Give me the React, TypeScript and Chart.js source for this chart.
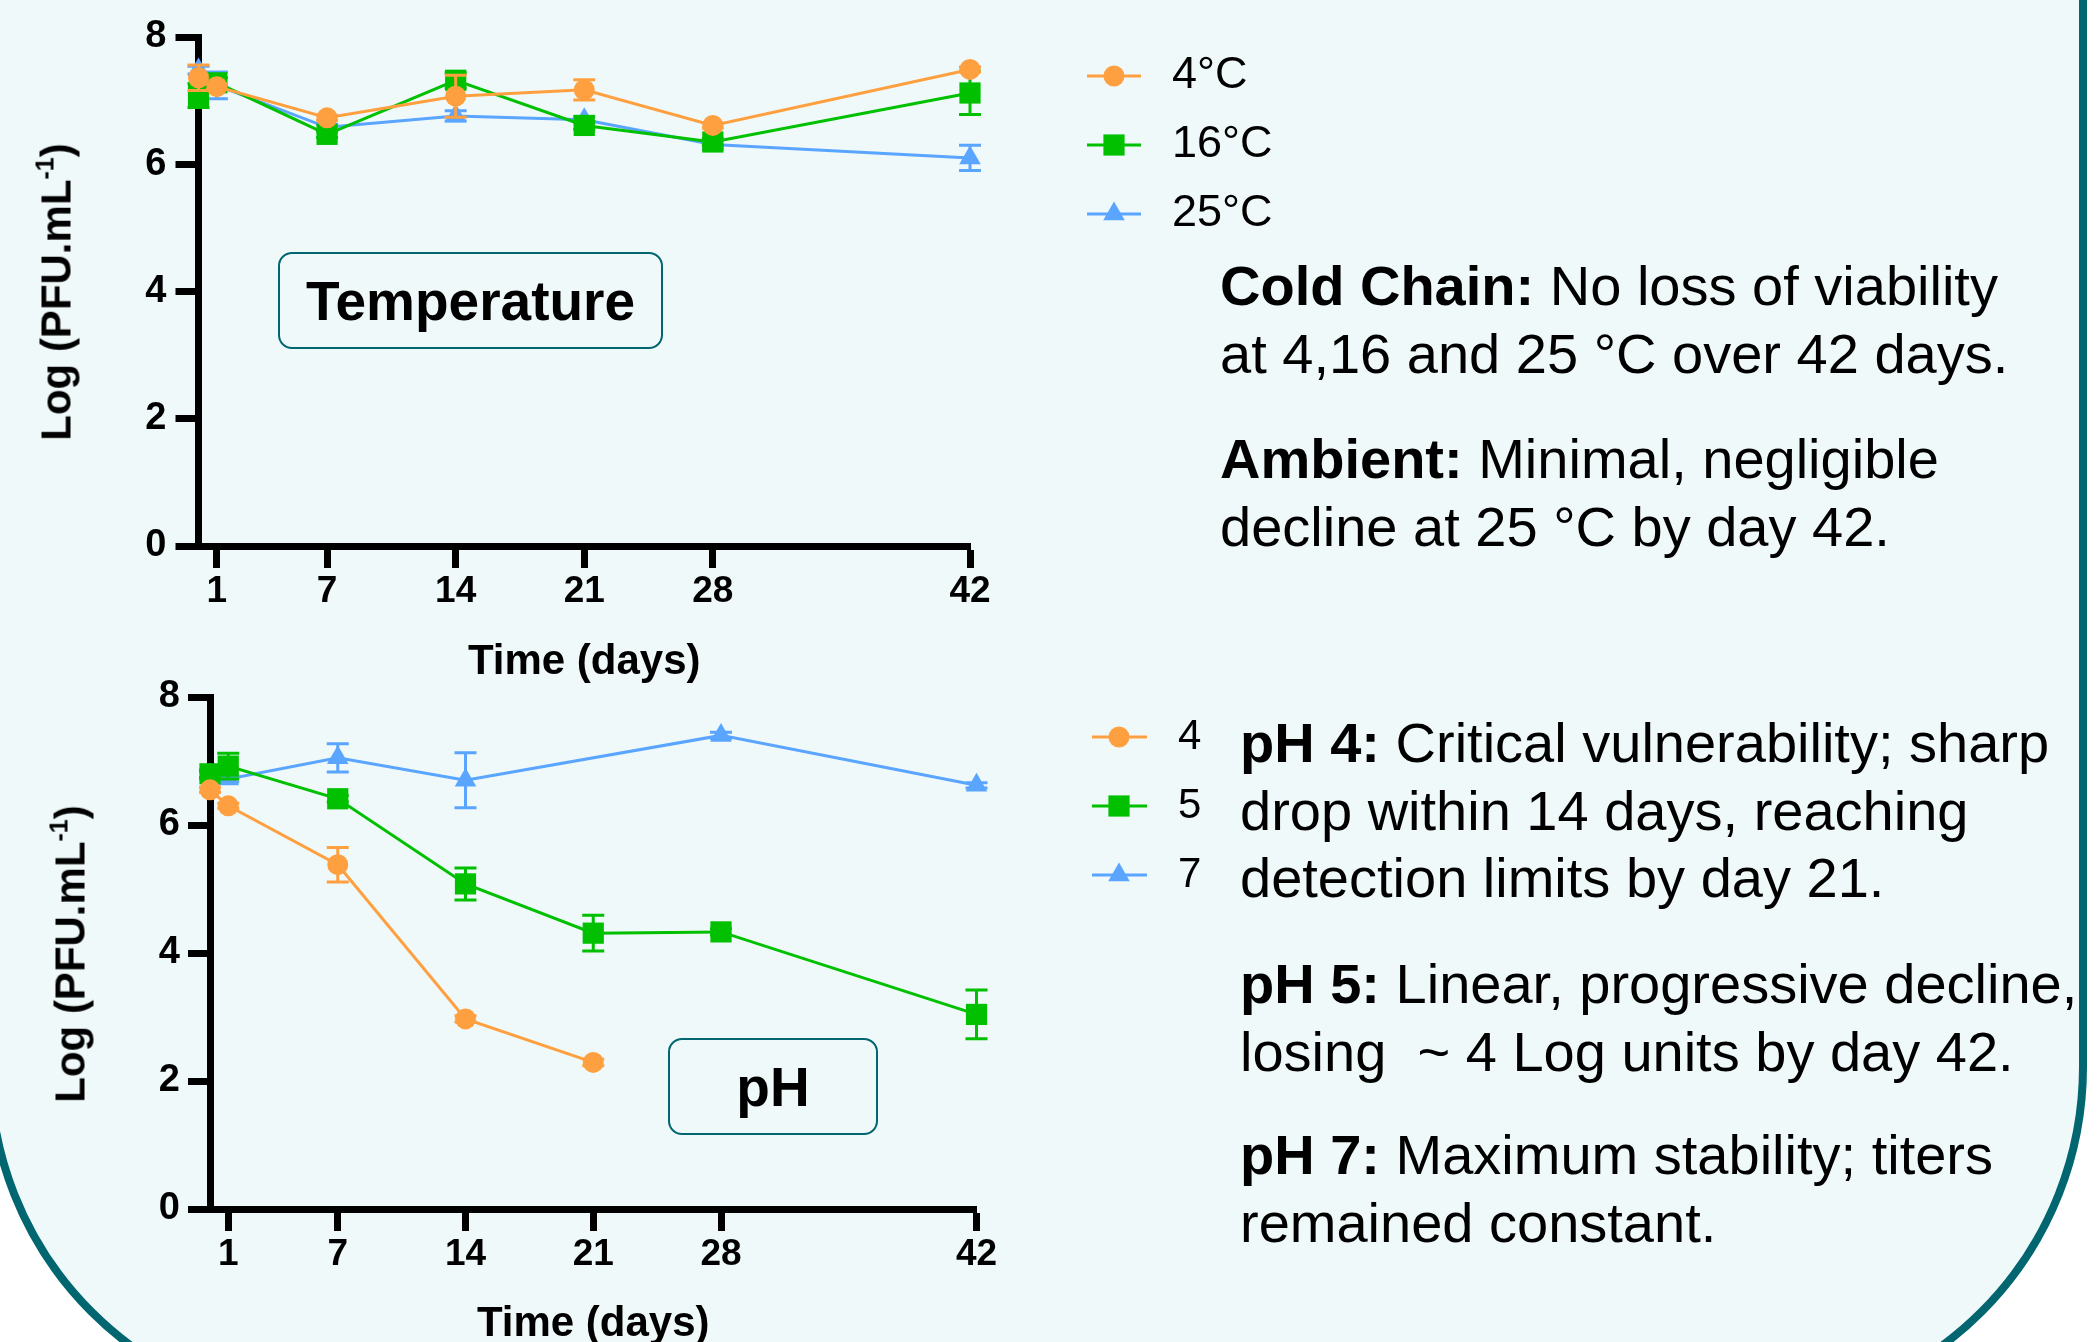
import React, { useEffect, useRef } from 'react';
import { Chart, registerables } from 'chart.js';

Chart.register(...registerables);

const FONT = "'Liberation Sans', Arial, Helvetica, sans-serif";

// ---------- data ----------
const DAYS = [0, 1, 7, 14, 21, 28, 42];
const X_TICKS = [1, 7, 14, 21, 28, 42];
const Y_TICKS = [0, 2, 4, 6, 8];
const X_TITLE = 'Time (days)';

const TEMP_LABELS = ['4°C', '16°C', '25°C'];
const TEMP_4_MEAN = [7.36, 7.22, 6.73, 7.07, 7.17, 6.61, 7.49];
const TEMP_4_SD = [0.2, 0.04, 0.04, 0.33, 0.16, 0.04, 0.04];
const TEMP_16_MEAN = [7.08, 7.28, 6.47, 7.32, 6.61, 6.35, 7.12];
const TEMP_16_SD = [0.19, 0.08, 0.05, 0.12, 0.06, 0.05, 0.34];
const TEMP_25_MEAN = [7.48, 7.24, 6.58, 6.76, 6.7, 6.31, 6.1];
const TEMP_25_SD = [0.06, 0.21, 0.05, 0.08, 0.05, 0.07, 0.2];

const PH_LABELS = ['4', '5', '7'];
const PH_4_MEAN = [6.55, 6.3, 5.38, 2.97, 2.29, null, null];
const PH_4_SD = [0.04, 0.04, 0.27, 0.05, 0.05, null, null];
const PH_5_MEAN = [6.8, 6.92, 6.41, 5.08, 4.31, 4.33, 3.04];
const PH_5_SD = [0.06, 0.2, 0.05, 0.25, 0.28, 0.05, 0.38];
const PH_7_MEAN = [6.78, 6.72, 7.05, 6.7, null, 7.4, 6.62];
const PH_7_SD = [0.05, 0.05, 0.22, 0.43, null, 0.05, 0.04];

const COLORS = ['#FFA040', '#00C000', '#5AA5FF'];
const POINT_STYLES = ['circle', 'rect', 'triangle'];
const POINT_RADII = [10.5, 15, 12.5];

// ---------- helpers ----------
function buildPoints(means: (number | null)[], sds: (number | null)[]) {
  return DAYS.map((d, i) => ({ x: d, y: means[i], sd: sds[i] })).filter((p) => p.y !== null);
}

function buildDatasets(labels: string[], means: (number | null)[][], sds: (number | null)[][]) {
  return labels.map((label, i) => ({
    label,
    data: buildPoints(means[i], sds[i]),
    borderColor: COLORS[i],
    backgroundColor: COLORS[i],
    pointBackgroundColor: COLORS[i],
    pointBorderWidth: 0,
    pointStyle: POINT_STYLES[i],
    pointRadius: POINT_RADII[i],
    borderWidth: 3,
    tension: 0,
    clip: false as any,
  }));
}

const errorBarPlugin = {
  id: 'errorBars',
  beforeDatasetDraw(chart: any, args: any) {
    const ds = chart.data.datasets[args.index];
    const meta = args.meta;
    const yScale = chart.scales.y;
    const ctx = chart.ctx;
    ctx.save();
    ctx.strokeStyle = ds.borderColor;
    ctx.lineWidth = 3;
    meta.data.forEach((el: any, i: number) => {
      const p = ds.data[i];
      if (!p || !p.sd) return;
      const x = el.x;
      const yTop = yScale.getPixelForValue(p.y + p.sd);
      const yBot = yScale.getPixelForValue(p.y - p.sd);
      const cap = 11;
      ctx.beginPath();
      ctx.moveTo(x, yTop);
      ctx.lineTo(x, yBot);
      ctx.moveTo(x - cap, yTop);
      ctx.lineTo(x + cap, yTop);
      ctx.moveTo(x - cap, yBot);
      ctx.lineTo(x + cap, yBot);
      ctx.stroke();
    });
    ctx.restore();
  },
};

function drawMarker(ctx: CanvasRenderingContext2D, style: string, x: number, y: number, r: number) {
  ctx.beginPath();
  if (style === 'circle') {
    ctx.arc(x, y, r, 0, Math.PI * 2);
  } else if (style === 'rect') {
    const s = r * Math.SQRT1_2;
    ctx.rect(x - s, y - s, 2 * s, 2 * s);
  } else {
    const a = (2 * Math.PI) / 3;
    ctx.moveTo(x, y - r);
    ctx.lineTo(x + r * Math.sin(a), y - r * Math.cos(a));
    ctx.lineTo(x + r * Math.sin(2 * a), y - r * Math.cos(2 * a));
    ctx.closePath();
  }
  ctx.fill();
}

function makeLegendPlugin(lay: { x0: number; x1: number; mx: number; tx: number; rows: number[]; size: number }) {
  return {
    id: 'sideLegend',
    afterDraw(chart: any) {
      const ctx = chart.ctx;
      chart.data.datasets.forEach((ds: any, i: number) => {
        const y = lay.rows[i];
        ctx.save();
        ctx.strokeStyle = ds.borderColor;
        ctx.lineWidth = 3;
        ctx.beginPath();
        ctx.moveTo(lay.x0, y);
        ctx.lineTo(lay.x1, y);
        ctx.stroke();
        ctx.fillStyle = ds.pointBackgroundColor;
        drawMarker(ctx, ds.pointStyle, lay.mx, y, ds.pointRadius);
        ctx.fillStyle = '#000';
        ctx.font = `${lay.size}px ${FONT}`;
        ctx.textBaseline = 'middle';
        ctx.textAlign = 'left';
        ctx.fillText(ds.label, lay.tx, y);
        ctx.restore();
      });
    },
  };
}

function makeConfig(
  datasets: any[],
  lay: { padTop: number; padRight: number; yWidth: number; xHeight: number; titlePad: number; yTickPad: number; yTickLen: number },
  legend: any
) {
  return {
    type: 'line' as const,
    data: { datasets },
    plugins: [errorBarPlugin, makeLegendPlugin(legend)],
    options: {
      animation: false as const,
      responsive: false,
      maintainAspectRatio: false,
      events: [],
      layout: { padding: { left: 0, top: lay.padTop, right: lay.padRight, bottom: 0 } },
      plugins: { legend: { display: false }, tooltip: { enabled: false } },
      scales: {
        x: {
          type: 'linear' as const,
          min: 0,
          max: 42,
          afterBuildTicks: (s: any) => {
            s.ticks = X_TICKS.map((v) => ({ value: v }));
          },
          afterFit: (s: any) => {
            s.height = lay.xHeight;
            s.paddingLeft = 0;
            s.paddingRight = 0;
            s.paddingTop = 0;
            s.paddingBottom = 0;
          },
          grid: { display: true, drawOnChartArea: false, drawTicks: true, tickLength: 22, tickWidth: 7, tickColor: '#000' },
          border: { display: true, width: 7, color: '#000' },
          ticks: { color: '#000', font: { family: FONT, size: 37, weight: 'bold' as const }, padding: 2, maxRotation: 0, autoSkip: false },
          title: {
            display: true,
            text: X_TITLE,
            color: '#000',
            font: { family: FONT, size: 42, weight: 'bold' as const },
            padding: { top: 0, bottom: lay.titlePad },
          },
        },
        y: {
          type: 'linear' as const,
          min: 0,
          max: 8,
          afterBuildTicks: (s: any) => {
            s.ticks = Y_TICKS.map((v) => ({ value: v }));
          },
          afterFit: (s: any) => {
            s.width = lay.yWidth;
            s.paddingTop = 0;
            s.paddingBottom = 0;
            s.paddingLeft = 0;
            s.paddingRight = 0;
          },
          grid: { display: true, drawOnChartArea: false, drawTicks: true, tickLength: lay.yTickLen, tickWidth: 7, tickColor: '#000' },
          border: { display: true, width: 7, color: '#000' },
          ticks: { color: '#000', font: { family: FONT, size: 38, weight: 'bold' as const }, padding: lay.yTickPad },
        },
      },
    },
  };
}

function ChartCanvas({ config, top }: { config: () => any; top: number }) {
  const ref = useRef<HTMLCanvasElement | null>(null);
  useEffect(() => {
    const chart = new Chart(ref.current as HTMLCanvasElement, config());
    return () => chart.destroy();
  }, []);
  return <canvas ref={ref} width={1300} height={700} style={{ position: 'absolute', left: 0, top, width: 1300, height: 700 }} />;
}

const tempConfig = () =>
  makeConfig(
    buildDatasets(TEMP_LABELS, [TEMP_4_MEAN, TEMP_16_MEAN, TEMP_25_MEAN], [TEMP_4_SD, TEMP_16_SD, TEMP_25_SD]),
    { padTop: 37, padRight: 330, yWidth: 198.5, xHeight: 154, titlePad: 12, yTickPad: 9, yTickLen: 23 },
    { x0: 1087, x1: 1141, mx: 1114, tx: 1172, rows: [76, 145, 214], size: 45 }
  );

const phConfig = () =>
  makeConfig(
    buildDatasets(PH_LABELS, [PH_4_MEAN, PH_5_MEAN, PH_7_MEAN], [PH_4_SD, PH_5_SD, PH_7_SD]),
    { padTop: 47, padRight: 323.5, yWidth: 210, xHeight: 141, titlePad: 0, yTickPad: 8, yTickLen: 22 },
    { x0: 1092, x1: 1147, mx: 1119, tx: 1178, rows: [87, 156, 225], size: 42 }
  );

const TEAL = '#01666F';

function YTitle({ x, y }: { x: number; y: number }) {
  return (
    <div
      style={{
        position: 'absolute',
        left: x,
        top: y,
        transform: 'translate(-50%, -50%) rotate(-90deg)',
        whiteSpace: 'nowrap',
        font: `bold 42px ${FONT}`,
        lineHeight: '50px',
        color: '#000',
      }}
    >
      Log (PFU.mL<span style={{ fontSize: 25, position: 'relative', top: -17 }}>-1</span>)
    </div>
  );
}

function Panel({ left, top, width, height, text }: { left: number; top: number; width: number; height: number; text: string }) {
  return (
    <div
      style={{
        position: 'absolute',
        left,
        top,
        width,
        height,
        boxSizing: 'border-box',
        border: `2px solid ${TEAL}`,
        borderRadius: 14,
        display: 'flex',
        alignItems: 'center',
        justifyContent: 'center',
        font: `bold 55px ${FONT}`,
        color: '#000',
      }}
    >
      {text}
    </div>
  );
}

function Para({ left, firstCenter, children }: { left: number; firstCenter: number; children: React.ReactNode }) {
  return (
    <div
      style={{
        position: 'absolute',
        left,
        top: firstCenter - 33.6,
        font: `56px ${FONT}`,
        lineHeight: '67.2px',
        whiteSpace: 'pre',
        color: '#000',
      }}
    >
      {children}
    </div>
  );
}

export default function App() {
  return (
    <div style={{ position: 'fixed', left: 0, top: 0, width: 2098, height: 1342, overflow: 'hidden', background: '#FFFFFF' }}>
      <div
        style={{
          position: 'absolute',
          left: -14,
          top: -400,
          width: 2101,
          height: 1817,
          boxSizing: 'border-box',
          border: `8px solid ${TEAL}`,
          borderRadius: 350,
          background: '#F0F9FA',
        }}
      />
      <ChartCanvas config={tempConfig} top={0} />
      <ChartCanvas config={phConfig} top={650} />
      <YTitle x={59} y={292} />
      <YTitle x={73} y={954} />
      <Panel left={278} top={252} width={385} height={97} text="Temperature" />
      <Panel left={668} top={1038} width={210} height={97} text="pH" />
      <Para left={1220} firstCenter={286}>
        <b>Cold Chain:</b>
        {' No loss of viability\nat 4,16 and 25 °C over 42 days.'}
      </Para>
      <Para left={1220} firstCenter={459}>
        <b>Ambient:</b>
        {' Minimal, negligible\ndecline at 25 °C by day 42.'}
      </Para>
      <Para left={1240} firstCenter={743}>
        <b>pH 4:</b>
        {' Critical vulnerability; sharp\ndrop within 14 days, reaching\ndetection limits by day 21.'}
      </Para>
      <Para left={1240} firstCenter={984}>
        <b>pH 5:</b>
        {' Linear, progressive decline,\nlosing  ~ 4 Log units by day 42.'}
      </Para>
      <Para left={1240} firstCenter={1155}>
        <b>pH 7:</b>
        {' Maximum stability; titers\nremained constant.'}
      </Para>
    </div>
  );
}
